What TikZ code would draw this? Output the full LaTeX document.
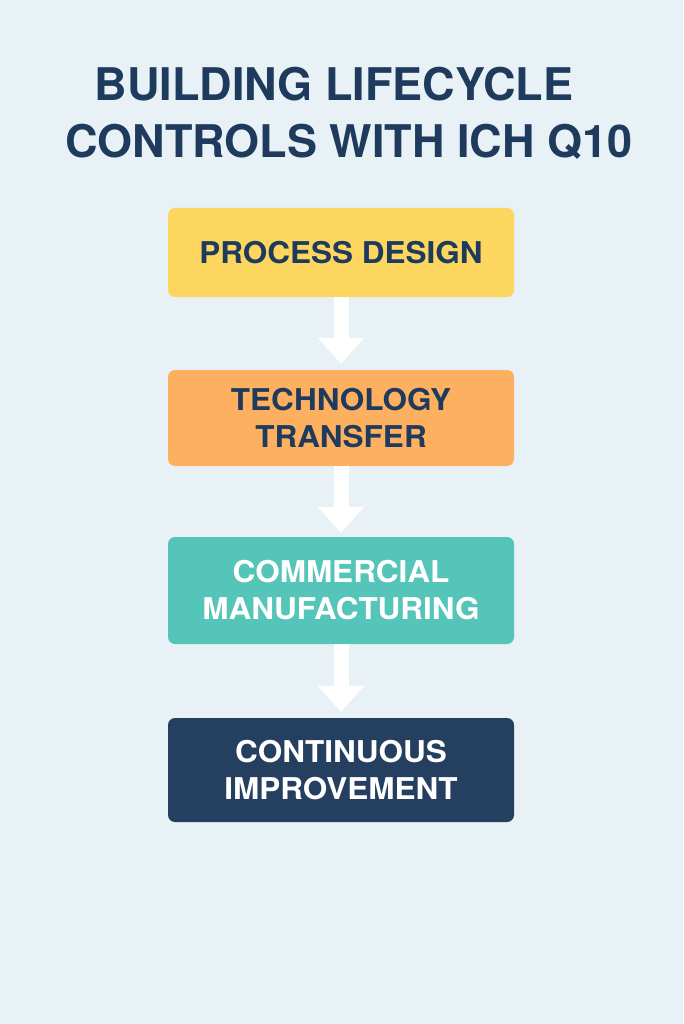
\documentclass[tikz,border=0pt]{standalone}
\usepackage{fontspec}
\setmainfont{TeX Gyre Heros}
\newfontfamily\boxfont[FakeStretch=1.05]{TeX Gyre Heros}
\usetikzlibrary{arrows.meta,calc}
\definecolor{bgc}{HTML}{E8F1F5}
\definecolor{navy}{HTML}{1E3A5C}
\definecolor{ycol}{HTML}{FDD660}
\definecolor{ocol}{HTML}{FDB060}
\definecolor{tcol}{HTML}{56C5B9}
\definecolor{ncol}{HTML}{253F61}
\tikzset{
  stagebox/.style={rounded corners=7pt, minimum width=346pt, align=center,
    font=\boxfont\bfseries\fontsize{30}{37}\selectfont, inner sep=0pt},
  titletext/.style={text=navy, font=\bfseries\fontsize{45}{54}\selectfont, inner sep=0pt},
  flowarrow/.style={white, line width=15pt, -{Triangle[width=45pt,length=26pt]}}
}
\begin{document}
\begin{tikzpicture}[x=1pt,y=-1pt]
\fill[bgc] (0,0) rectangle (683,1024);
\useasboundingbox (0,0) rectangle (683,1024);
\node[titletext] (t1) at (334,84) {BUILDING LIFECYCLE};
\node[titletext] (t2) at (349,142) {CONTROLS WITH ICH Q10};
\node[stagebox, fill=ycol, text=navy, minimum height=89pt] (s1) at (341,252.5) {PROCESS DESIGN};
\node[stagebox, fill=ocol, text=navy, minimum height=96pt] (s2) at (341,418) {TECHNOLOGY\\TRANSFER};
\node[stagebox, fill=tcol, text=white, minimum height=107pt] (s3) at (341,590.5) {COMMERCIAL\\MANUFACTURING};
\node[stagebox, fill=ncol, text=white, minimum height=104pt] (s4) at (341,770) {CONTINUOUS\\IMPROVEMENT};
\draw[flowarrow] (s1.south) -- ($(s2.north)+(0,6pt)$);
\draw[flowarrow] (s2.south) -- ($(s3.north)+(0,4pt)$);
\draw[flowarrow] (s3.south) -- ($(s4.north)+(0,6pt)$);
\end{tikzpicture}
\end{document}
